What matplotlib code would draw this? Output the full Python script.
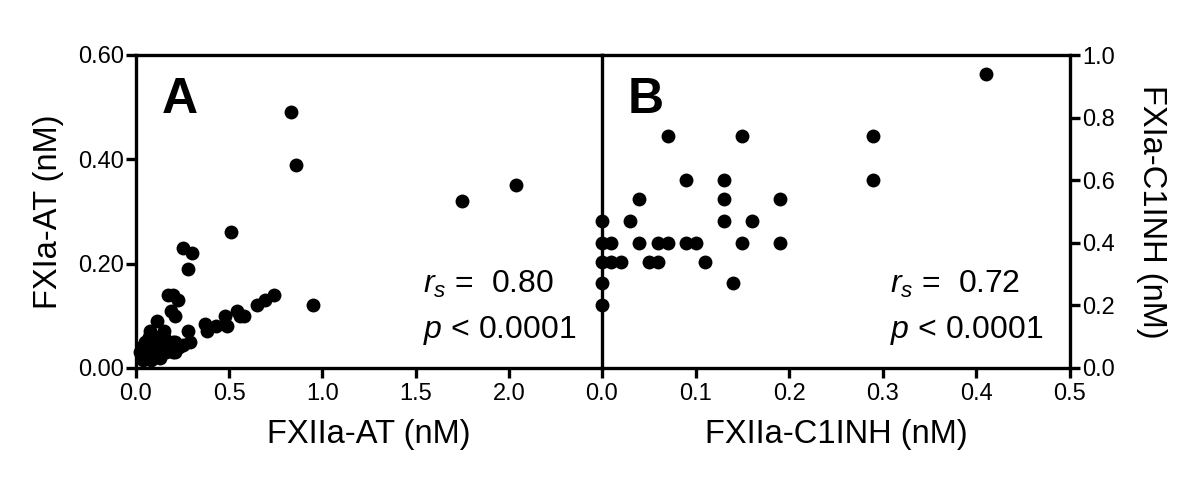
import matplotlib
matplotlib.use("Agg")
import matplotlib.pyplot as plt

plt.rcParams['font.family'] = ['Liberation Sans', 'DejaVu Sans']
plt.rcParams['mathtext.fontset'] = 'custom'
plt.rcParams['mathtext.rm'] = 'Liberation Sans'
plt.rcParams['mathtext.it'] = 'Liberation Sans:italic'

# Panel A: FXIIa-AT vs FXIa-AT
a_x = [0.83, 0.86, 1.75, 2.04, 0.95, 0.51, 0.25, 0.30, 0.28,
       0.17, 0.20, 0.225, 0.19, 0.21,
       0.74, 0.69, 0.65, 0.54, 0.58, 0.56, 0.48, 0.49, 0.43, 0.37, 0.38,
       0.28, 0.29, 0.25, 0.21, 0.21, 0.11, 0.075, 0.15, 0.14,
       0.03, 0.04, 0.05, 0.06, 0.07, 0.08, 0.09, 0.10, 0.11, 0.12, 0.13,
       0.14, 0.15, 0.16, 0.18, 0.20, 0.22, 0.05, 0.03, 0.07, 0.10, 0.12,
       0.08, 0.04, 0.17, 0.20, 0.23, 0.02, 0.06]
a_y = [0.49, 0.39, 0.32, 0.35, 0.12, 0.26, 0.23, 0.22, 0.19,
       0.14, 0.14, 0.13, 0.11, 0.10,
       0.14, 0.13, 0.12, 0.11, 0.10, 0.10, 0.10, 0.08, 0.08, 0.085, 0.07,
       0.07, 0.05, 0.045, 0.03, 0.05, 0.09, 0.07, 0.07, 0.057,
       0.02, 0.03, 0.02, 0.04, 0.03, 0.05, 0.02, 0.04, 0.03, 0.05, 0.02,
       0.04, 0.06, 0.03, 0.04, 0.03, 0.04, 0.05, 0.04, 0.06, 0.06, 0.03,
       0.015, 0.015, 0.05, 0.05, 0.04, 0.03, 0.025]

# Panel B: FXIIa-C1INH vs FXIa-C1INH
b_x = [0, 0, 0, 0, 0, 0.01, 0.01, 0.02, 0.03, 0.04, 0.04, 0.05, 0.06, 0.06,
       0.07, 0.07, 0.09, 0.09, 0.10, 0.11, 0.13, 0.13, 0.13, 0.14, 0.15,
       0.15, 0.16, 0.19, 0.19, 0.29, 0.29, 0.41]
b_y = [0.47, 0.40, 0.34, 0.27, 0.20, 0.40, 0.34, 0.34, 0.47, 0.54, 0.40,
       0.34, 0.34, 0.40, 0.40, 0.74, 0.60, 0.40, 0.40, 0.34, 0.60, 0.54,
       0.47, 0.27, 0.74, 0.40, 0.47, 0.54, 0.40, 0.74, 0.60, 0.94]

a_xticks = [0.0, 0.5, 1.0, 1.5, 2.0]
a_yticks = [0.0, 0.2, 0.4, 0.6]
b_xticks = [0.0, 0.1, 0.2, 0.3, 0.4, 0.5]
b_yticks = [0.0, 0.2, 0.4, 0.6, 0.8, 1.0]

fig = plt.figure(figsize=(12, 4.84), dpi=100)
axA = fig.add_axes([136/1200, 116/484, 466/1200, 313/484])
axB = fig.add_axes([602/1200, 116/484, 468/1200, 313/484])

lw = 2.4
tick_fs = 17
lab_fs = 23.5
dot = 100

for ax in (axA, axB):
    for s in ax.spines.values():
        s.set_linewidth(lw)
    ax.tick_params(axis='x', width=lw, length=7, labelsize=tick_fs, direction='out', pad=4)
    ax.tick_params(axis='y', width=lw, length=7, labelsize=tick_fs, direction='out', pad=1.5)

axA.scatter(a_x, a_y, s=dot, color='black', clip_on=False, zorder=3, linewidths=0)
axA.set_xlim(0, 2.5)
axA.set_ylim(0, 0.6)
axA.set_xticks(a_xticks)
axA.set_xticklabels([f"{v:.1f}" for v in a_xticks])
axA.set_yticks(a_yticks)
axA.set_yticklabels([f"{v:.2f}" for v in a_yticks])
axA.spines['right'].set_visible(False)
axA.set_xlabel("FXIIa-AT (nM)", fontsize=lab_fs, labelpad=10)
axA.set_ylabel("FXIa-AT (nM)", fontsize=lab_fs, labelpad=10)

axB.scatter(b_x, b_y, s=dot, color='black', clip_on=False, zorder=3, linewidths=0)
axB.set_xlim(0, 0.5)
axB.set_ylim(0, 1.0)
axB.set_xticks(b_xticks)
axB.set_xticklabels([f"{v:.1f}" for v in b_xticks])
axB.yaxis.tick_right()
axB.yaxis.set_label_position('right')
axB.set_yticks(b_yticks)
axB.set_yticklabels([f"{v:.1f}" for v in b_yticks])
axB.set_xlabel("FXIIa-C1INH (nM)", fontsize=lab_fs, labelpad=10)
axB.set_ylabel("FXIa-C1INH (nM)", fontsize=lab_fs, rotation=270, labelpad=38)

for ax, letter, r in ((axA, 'A', '0.80'), (axB, 'B', '0.72')):
    ax.text(0.055, 0.815, letter, transform=ax.transAxes, fontsize=36,
            fontweight='bold', ha='left', va='baseline')
    ax.text(0.616, 0.24, r'$\mathit{r_s}$ =  ' + r, transform=ax.transAxes,
            fontsize=23, ha='left', va='baseline')
    ax.text(0.616, 0.096, r'$\mathit{p}$ < 0.0001', transform=ax.transAxes,
            fontsize=23, ha='left', va='baseline')

fig.savefig("out.png", dpi=100)
